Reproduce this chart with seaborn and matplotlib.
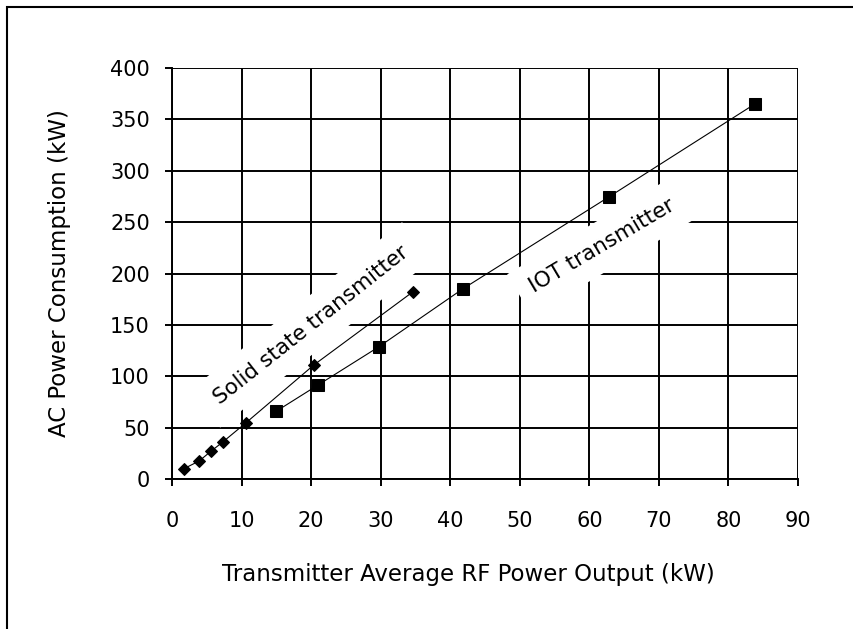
import matplotlib
matplotlib.use("Agg")
import matplotlib.pyplot as plt
import seaborn as sns
import pandas as pd
from matplotlib.patches import Rectangle

# Data
solid_x = [1.7, 3.9, 5.6, 7.3, 10.6, 20.4, 34.6]
solid_y = [10, 17.5, 27, 36, 54.5, 111, 182]
iot_x = [15, 21, 29.7, 41.8, 62.8, 83.8]
iot_y = [66, 91.5, 128.5, 185, 274.5, 365]
x_ticks = [0, 10, 20, 30, 40, 50, 60, 70, 80, 90]
y_ticks = [0, 50, 100, 150, 200, 250, 300, 350, 400]

sns.set_style("white")
plt.rcParams['font.family'] = ['DejaVu Sans']
plt.rcParams['text.color'] = 'black'
plt.rcParams['axes.labelcolor'] = 'black'
plt.rcParams['xtick.color'] = 'black'
plt.rcParams['ytick.color'] = 'black'

fig = plt.figure(figsize=(8.54, 6.29), dpi=100)
ax = fig.add_axes([172/854, 1-479/629, (798-172)/854, (479-68)/629])

df_s = pd.DataFrame({"x": solid_x, "y": solid_y})
df_i = pd.DataFrame({"x": iot_x, "y": iot_y})

sns.lineplot(data=df_s, x="x", y="y", ax=ax, color="black", linewidth=0.8,
             marker="D", markersize=6, markeredgecolor="black", zorder=5)
sns.lineplot(data=df_i, x="x", y="y", ax=ax, color="black", linewidth=0.8,
             marker="s", markersize=8.5, markeredgecolor="black", zorder=5)

ax.set_xlim(0, 90)
ax.set_ylim(0, 400)
ax.set_xticks(x_ticks)
ax.set_yticks(y_ticks)
ax.grid(True, color="black", linewidth=1.4)
ax.set_axisbelow(True)
for s in ax.spines.values():
    s.set_visible(False)
for side in ('left', 'bottom'):
    ax.spines[side].set_visible(True)
    ax.spines[side].set_linewidth(1.4)
    ax.spines[side].set_color("black")
ax.tick_params(axis="both", direction="out", length=5, width=1.4, colors="black",
               labelsize=15, left=True, bottom=True)
ax.tick_params(axis="x", pad=18)
ax.tick_params(axis="y", pad=11)

ax.set_xlabel("Transmitter Average RF Power Output (kW)", fontsize=16.5, color="black")
ax.xaxis.set_label_coords(0.473, -0.205)
ax.set_ylabel("AC Power Consumption (kW)", fontsize=16.5, color="black", labelpad=28)

ax.text(20.0, 150, "Solid state transmitter", rotation=38.4, ha="center", va="center",
        fontsize=15.5, rotation_mode="anchor", color="black",
        bbox=dict(facecolor="white", edgecolor="none", pad=10), zorder=4)
ax.text(61.9, 227, "IOT transmitter", rotation=30.6, ha="center", va="center",
        fontsize=15.5, rotation_mode="anchor", color="black",
        bbox=dict(facecolor="white", edgecolor="none", pad=10), zorder=4)

fig.patches.append(Rectangle((7/854, -0.1), 1.2, 1.1 - 7/629, transform=fig.transFigure,
                             fill=False, edgecolor="black", linewidth=1.5))

fig.savefig("out.png", dpi=100)
